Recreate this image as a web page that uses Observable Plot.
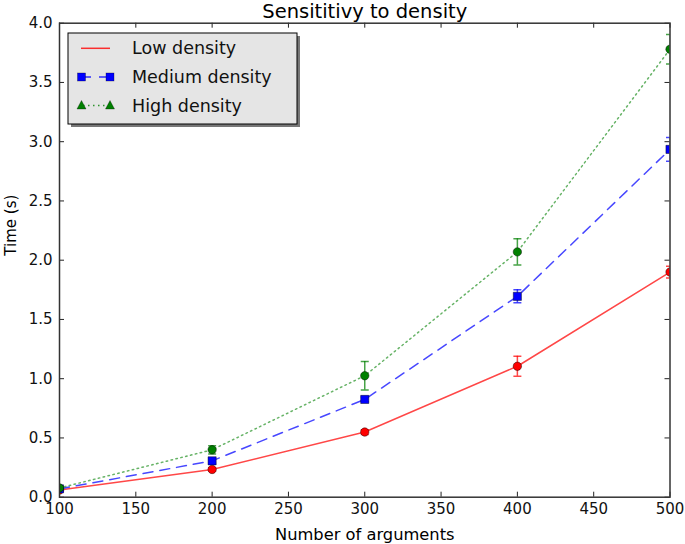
<!DOCTYPE html>
<html>
<head>
<meta charset="utf-8">
<script src="https://cdn.jsdelivr.net/npm/d3@7"></script>
<script src="https://cdn.jsdelivr.net/npm/@observablehq/plot@0.6"></script>
<style>
  body { margin: 0; background: #fff; }
  #chart { position: relative; width: 685px; height: 544px; }
  svg { font-family: "DejaVu Sans", sans-serif; }
</style>
</head>
<body>
<div id="chart"></div>
<script>
const title = "Sensititivy to density";
const xLabel = "Number of arguments";
const yLabel = "Time (s)";
const seriesNames = ["Low density", "Medium density", "High density"];
const xValues = [100, 200, 300, 400, 500];
const lowMean = [0.06, 0.234, 0.55, 1.105, 1.90];
const lowErr = [0.01, 0.015, 0.02, 0.085, 0.05];
const mediumMean = [0.07, 0.307, 0.825, 1.695, 2.935];
const mediumErr = [0.01, 0.02, 0.02, 0.055, 0.10];
const highMean = [0.078, 0.40, 1.025, 2.07, 3.78];
const highErr = [0.01, 0.035, 0.12, 0.11, 0.125];
const xTicks = [100, 150, 200, 250, 300, 350, 400, 450, 500];
const yTicks = [0, 0.5, 1, 1.5, 2, 2.5, 3, 3.5, 4];

const colors = {"Low density": "#ff0000", "Medium density": "#0000ff", "High density": "#008000"};
const dashes = {"Low density": null, "Medium density": "10,7", "High density": "1.5,3.5"};
const symbols = {"Low density": "circle", "Medium density": "square", "High density": "circle"};

const means = [lowMean, mediumMean, highMean];
const errs = [lowErr, mediumErr, highErr];
const rows = [];
seriesNames.forEach((s, si) => {
  xValues.forEach((x, i) => {
    rows.push({series: s, x, y: means[si][i], lo: means[si][i] - errs[si][i], hi: means[si][i] + errs[si][i]});
  });
});

const W = 685, H = 544;
const mL = 59, mR = 15.5, mT = 22.7, mB = 47.3;
const innerH = H - mT - mB, innerW = W - mL - mR;

const capSymbol = {
  draw(context, size) {
    const r = Math.sqrt(size / Math.PI);
    context.moveTo(-r, 0);
    context.lineTo(r, 0);
  }
};

const marks = [];
// inward ticks on all four sides
marks.push(Plot.gridX(xTicks, {stroke: "#222", strokeOpacity: 1, strokeWidth: 1, insetTop: innerH - 5}));
marks.push(Plot.gridX(xTicks, {stroke: "#222", strokeOpacity: 1, strokeWidth: 1, insetBottom: innerH - 5}));
marks.push(Plot.gridY(yTicks, {stroke: "#222", strokeOpacity: 1, strokeWidth: 1, insetRight: innerW - 5}));
marks.push(Plot.gridY(yTicks, {stroke: "#222", strokeOpacity: 1, strokeWidth: 1, insetLeft: innerW - 5}));
// tick labels
marks.push(Plot.axisX({ticks: xTicks, tickSize: 0, tickPadding: 6, fontSize: 15, label: null, tickFormat: d3.format("d"), fill: "#111"}));
marks.push(Plot.axisY({ticks: yTicks, tickSize: 0, tickPadding: 7, fontSize: 15, label: null, tickFormat: d3.format(".1f"), fill: "#111"}));

seriesNames.forEach((s) => {
  const data = rows.filter(d => d.series === s);
  marks.push(Plot.line(data, {x: "x", y: "y", stroke: colors[s], strokeOpacity: s === "High density" ? 0.6 : 0.72, strokeWidth: 1.5, strokeDasharray: dashes[s], clip: "frame"}));
});
seriesNames.forEach((s) => {
  const data = rows.filter(d => d.series === s);
  marks.push(Plot.ruleX(data, {x: "x", y1: "lo", y2: "hi", stroke: colors[s], strokeOpacity: 0.72, strokeWidth: 1.5, clip: "frame"}));
  marks.push(Plot.dot(data, {x: "x", y: "lo", symbol: capSymbol, r: 4, stroke: colors[s], strokeOpacity: 0.72, strokeWidth: 1.5, clip: "frame"}));
  marks.push(Plot.dot(data, {x: "x", y: "hi", symbol: capSymbol, r: 4, stroke: colors[s], strokeOpacity: 0.72, strokeWidth: 1.5, clip: "frame"}));
  marks.push(Plot.dot(data, {x: "x", y: "y", symbol: symbols[s], r: symbols[s] === "square" ? 4.6 : 4.2, fill: colors[s], stroke: "#000", strokeOpacity: 0.55, strokeWidth: 0.8, clip: "frame"}));
});

marks.push(Plot.frame({stroke: "#333", strokeWidth: 1.5}));
marks.push(Plot.text([title], {text: d => d, frameAnchor: "top", lineAnchor: "middle", dy: -11.5, fontSize: 19.5, fill: "#000"}));
marks.push(Plot.text([xLabel], {text: d => d, frameAnchor: "bottom", lineAnchor: "middle", dy: 38, fontSize: 16.3, fill: "#000"}));
marks.push(Plot.text([yLabel], {text: d => d, frameAnchor: "left", lineAnchor: "middle", dx: -48, dy: -4.5, rotate: -90, fontSize: 15, fill: "#000"}));

const svg = Plot.plot({
  width: W,
  height: H,
  marginLeft: mL,
  marginRight: mR,
  marginTop: mT,
  marginBottom: mB,
  x: {domain: [100, 500], axis: null},
  y: {domain: [0, 4], axis: null},
  style: {fontFamily: "DejaVu Sans, sans-serif", background: "#fff"},
  marks
});

// legend
const g = d3.select(svg).append("g").attr("text-anchor", "start");
const lx = 68, ly = 33, lw = 229, lh = 91;
g.append("rect").attr("x", lx + 3).attr("y", ly + 3).attr("width", lw).attr("height", lh).attr("fill", "#777");
g.append("rect").attr("x", lx).attr("y", ly).attr("width", lw).attr("height", lh).attr("fill", "#e5e5e5").attr("stroke", "#000").attr("stroke-width", 1);
const rowY = [48.3, 77, 105.5];
seriesNames.forEach((s, i) => {
  const y = rowY[i];
  const line = g.append("line").attr("x1", 81).attr("x2", 110).attr("y1", y).attr("y2", y)
    .attr("stroke", colors[s]).attr("stroke-opacity", 0.8).attr("stroke-width", 1.5);
  if (dashes[s]) line.attr("stroke-dasharray", i === 1 ? "7,8" : "1.5,3.5").attr("x1", i === 1 ? 84 : 83).attr("x2", i === 1 ? 108 : 108);
  if (i === 1) {
    [81.5, 110].forEach(cx => g.append("rect").attr("x", cx - 4).attr("y", y - 4).attr("width", 8).attr("height", 8).attr("fill", colors[s]).attr("stroke", "#000").attr("stroke-opacity", 0.5).attr("stroke-width", 0.6));
  }
  if (i === 2) {
    [81.5, 110].forEach(cx => g.append("path").attr("d", `M${cx},${y - 5}L${cx + 4.5},${y + 3.5}L${cx - 4.5},${y + 3.5}Z`).attr("fill", colors[s]).attr("stroke", "#000").attr("stroke-opacity", 0.5).attr("stroke-width", 0.6));
  }
  g.append("text").attr("x", 132).attr("y", y).attr("dy", "0.35em").attr("font-size", 17.5).attr("fill", "#111").attr("text-anchor", "start").text(s);
});

document.getElementById("chart").appendChild(svg);
</script>
</body>
</html>
